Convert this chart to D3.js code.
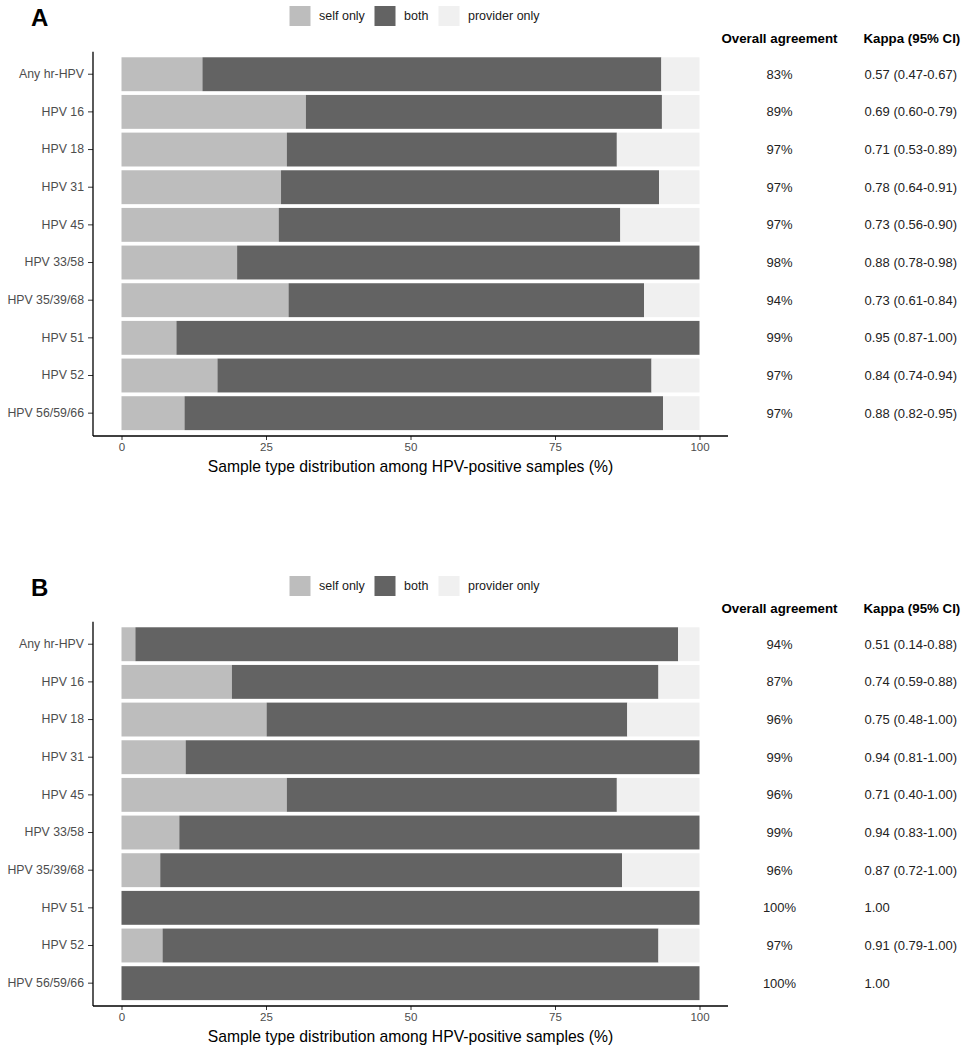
<!DOCTYPE html>
<html>
<head>
<meta charset="utf-8">
<script src="https://cdn.jsdelivr.net/npm/d3@7"></script>
<style>
  html, body { margin: 0; padding: 0; background: #fff; }
  svg { display: block; font-family: "Liberation Sans", Arial, sans-serif; }
</style>
</head>
<body>
<svg id="chart" width="969" height="1050"></svg>
<script>
// ---------- data ----------
const categories = ["Any hr-HPV", "HPV 16", "HPV 18", "HPV 31", "HPV 45", "HPV 33/58",
                    "HPV 35/39/68", "HPV 51", "HPV 52", "HPV 56/59/66"];
const seriesNames = ["self only", "both", "provider only"];
const seriesColors = ["#bdbdbd", "#636363", "#f0f0f0"];

const selfOnlyA     = [14.0, 31.9, 28.6, 27.6, 27.2, 20.0, 28.9, 9.5, 16.6, 10.9];
const bothA         = [79.4, 61.6, 57.1, 65.4, 59.1, 80.0, 61.5, 90.5, 75.1, 82.8];
const providerOnlyA = [6.6, 6.5, 14.3, 7.0, 13.7, 0.0, 9.6, 0.0, 8.3, 6.3];
const agreementA    = ["83%", "89%", "97%", "97%", "97%", "98%", "94%", "99%", "97%", "97%"];
const kappaA        = ["0.57 (0.47-0.67)", "0.69 (0.60-0.79)", "0.71 (0.53-0.89)", "0.78 (0.64-0.91)",
                       "0.73 (0.56-0.90)", "0.88 (0.78-0.98)", "0.73 (0.61-0.84)", "0.95 (0.87-1.00)",
                       "0.84 (0.74-0.94)", "0.88 (0.82-0.95)"];

const selfOnlyB     = [2.4, 19.1, 25.1, 11.1, 28.6, 10.0, 6.7, 0.0, 7.1, 0.0];
const bothB         = [93.9, 73.8, 62.4, 88.9, 57.1, 90.0, 79.9, 100.0, 85.8, 100.0];
const providerOnlyB = [3.7, 7.1, 12.5, 0.0, 14.3, 0.0, 13.4, 0.0, 7.1, 0.0];
const agreementB    = ["94%", "87%", "96%", "99%", "96%", "99%", "96%", "100%", "97%", "100%"];
const kappaB        = ["0.51 (0.14-0.88)", "0.74 (0.59-0.88)", "0.75 (0.48-1.00)", "0.94 (0.81-1.00)",
                       "0.71 (0.40-1.00)", "0.94 (0.83-1.00)", "0.87 (0.72-1.00)", "1.00",
                       "0.91 (0.79-1.00)", "1.00"];

const xTicks = [0, 25, 50, 75, 100];
const xTitle = "Sample type distribution among HPV-positive samples (%)";
const colHeaders = ["Overall agreement", "Kappa (95% CI)"];

// ---------- drawing ----------
const svg = d3.select("#chart");
const FONT = "'Liberation Sans', Arial, sans-serif";

function drawPanel(letter, offsetY, selfOnly, both, providerOnly, agreement, kappa) {
  const g = svg.append("g").attr("transform", `translate(0,${offsetY})`);

  const rows = categories.map((c, i) => ({
    cat: c, "self only": selfOnly[i], "both": both[i], "provider only": providerOnly[i]
  }));
  const stacked = d3.stack().keys(seriesNames)(rows);

  const x = d3.scaleLinear().domain([0, 100]).range([121.5, 699.5]);
  const y = d3.scaleBand().domain(categories).range([55.4, 432])
              .paddingInner(0.1).paddingOuter(0.05);
  const color = d3.scaleOrdinal().domain(seriesNames).range(seriesColors);

  // panel letter
  g.append("text").attr("x", 31).attr("y", 25.5)
    .attr("font-size", 24).attr("font-weight", "bold").attr("fill", "#000")
    .style("font-family", FONT)
    .text(letter);

  // legend
  const legendX = [289.5, 374.5, 438.5];
  const lg = g.append("g");
  seriesNames.forEach((s, i) => {
    lg.append("rect").attr("x", legendX[i]).attr("y", 6).attr("width", 21).attr("height", 20)
      .attr("fill", color(s));
    lg.append("text").attr("x", legendX[i] + 29.5).attr("y", 16).attr("dy", "0.35em")
      .attr("font-size", 12.5).attr("fill", "#1a1a1a").text(s);
  });

  // bars
  g.append("g").selectAll("g").data(stacked).join("g")
    .attr("fill", d => color(d.key))
    .selectAll("rect").data(d => d).join("rect")
    .attr("x", d => x(d[0]))
    .attr("y", d => y(d.data.cat))
    .attr("width", d => Math.max(0, x(d[1]) - x(d[0])))
    .attr("height", y.bandwidth());

  // axes
  const axisBottom = d3.axisBottom(x).tickValues(xTicks).tickSize(4).tickPadding(3);
  const gx = g.append("g").attr("transform", "translate(0,436)").call(axisBottom);
  gx.select(".domain").remove();
  gx.append("line").attr("x1", 93).attr("x2", 728).attr("y1", 0).attr("y2", 0)
    .attr("stroke", "#000").attr("stroke-width", 1.3);
  gx.selectAll(".tick line").attr("stroke", "#333");
  gx.selectAll(".tick text").attr("font-size", 11.5).attr("fill", "#4d4d4d")
    .style("font-family", FONT);

  const axisLeft = d3.axisLeft(y).tickSize(5).tickPadding(4);
  const gy = g.append("g").attr("transform", "translate(93,0)").call(axisLeft);
  gy.select(".domain").remove();
  gy.append("line").attr("x1", 0).attr("x2", 0).attr("y1", 51.7).attr("y2", 436)
    .attr("stroke", "#000").attr("stroke-width", 1.3);
  gy.selectAll(".tick line").attr("stroke", "#333");
  gy.selectAll(".tick text").attr("font-size", 12.3).attr("fill", "#4d4d4d")
    .style("font-family", FONT);

  // axis title (centred on the panel)
  g.append("text").attr("x", 410.5).attr("y", 467).attr("dy", "0.35em")
    .attr("text-anchor", "middle").attr("font-size", 15.7).attr("fill", "#000")
    .text(xTitle);

  // table headers
  g.append("text").attr("x", 779.5).attr("y", 38).attr("dy", "0.35em")
    .attr("text-anchor", "middle").attr("font-size", 13.3).attr("font-weight", "bold")
    .attr("fill", "#000").text(colHeaders[0]);
  g.append("text").attr("x", 863.5).attr("y", 38).attr("dy", "0.35em")
    .attr("font-size", 13.3).attr("font-weight", "bold")
    .attr("fill", "#000").text(colHeaders[1]);

  // table values
  g.append("g").selectAll("text").data(categories).join("text")
    .attr("x", 779.5).attr("y", d => y(d) + y.bandwidth() / 2).attr("dy", "0.35em")
    .attr("text-anchor", "middle").attr("font-size", 13).attr("fill", "#222")
    .text((d, i) => agreement[i]);
  g.append("g").selectAll("text").data(categories).join("text")
    .attr("x", 864.5).attr("y", d => y(d) + y.bandwidth() / 2).attr("dy", "0.35em")
    .attr("font-size", 13).attr("fill", "#222")
    .text((d, i) => kappa[i]);
}

drawPanel("A", 0, selfOnlyA, bothA, providerOnlyA, agreementA, kappaA);
drawPanel("B", 570, selfOnlyB, bothB, providerOnlyB, agreementB, kappaB);
</script>
</body>
</html>
